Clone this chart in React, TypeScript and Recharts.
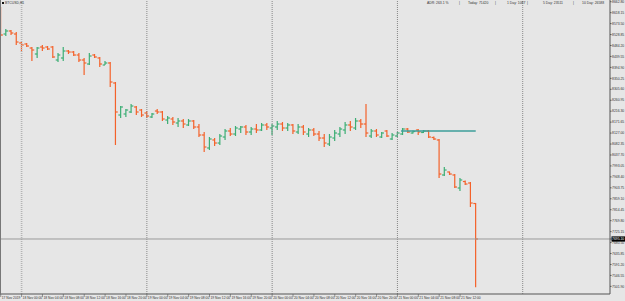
import { ComposedChart, Bar, XAxis, YAxis, ReferenceLine } from "recharts";

const OPEN = [
  8628.9, 8531.0, 8543.3, 8531.0, 8494.3, 8490.3, 8473.9, 8449.5, 8478.0, 8478.0,
  8478.0, 8425.0, 8433.2, 8461.7, 8457.6, 8445.4, 8425.0, 8408.7, 8445.4, 8433.2,
  8404.6, 8412.8, 8331.2, 8200.7, 8204.8, 8213.0, 8233.4, 8221.1, 8208.9, 8192.6,
  8217.0, 8213.0, 8180.3, 8184.4, 8168.1, 8176.3, 8160.0, 8176.3, 8151.8, 8119.2,
  8066.2, 8098.8, 8086.5, 8111.0, 8135.5, 8123.2, 8143.6, 8151.8, 8131.4, 8143.6,
  8139.6, 8160.0, 8147.7, 8151.8, 8164.0, 8147.7, 8160.0, 8131.4, 8151.8, 8123.2,
  8139.6, 8123.2, 8106.9, 8082.5, 8106.9, 8123.2, 8139.6, 8160.0, 8147.7, 8176.3,
  8164.0, 8115.1, 8135.5, 8111.0, 8135.5, 8102.9, 8115.1, 8123.2, 8143.6, 8127.3,
  8139.6, 8129.4, 8135.5, 8109.0, 8098.8, 7956.1, 7968.3, 7956.1, 7903.0, 7929.5,
  7923.4, 7839.8,
];
const HIGH = [
  8641.2, 8551.4, 8547.4, 8539.2, 8498.4, 8494.3, 8478.0, 8478.0, 8486.2, 8482.1,
  8482.1, 8453.6, 8478.0, 8465.8, 8461.7, 8453.6, 8433.2, 8453.6, 8449.5, 8437.3,
  8421.0, 8416.9, 8335.3, 8237.4, 8225.2, 8245.6, 8237.4, 8225.2, 8217.0, 8208.9,
  8225.2, 8217.0, 8196.7, 8192.6, 8188.5, 8184.4, 8184.4, 8180.3, 8164.0, 8131.4,
  8111.0, 8106.9, 8123.2, 8143.6, 8147.7, 8155.9, 8155.9, 8160.0, 8151.8, 8164.0,
  8168.1, 8168.1, 8164.0, 8176.3, 8172.2, 8168.1, 8164.0, 8164.0, 8160.0, 8147.7,
  8147.7, 8135.5, 8123.2, 8123.2, 8139.6, 8151.8, 8172.2, 8176.3, 8188.5, 8184.4,
  8245.6, 8143.6, 8143.6, 8131.4, 8139.6, 8127.3, 8131.4, 8147.7, 8147.7, 8137.5,
  8143.6, 8139.6, 8139.6, 8113.0, 8102.9, 7988.7, 7970.3, 7960.1, 7943.8, 7933.6,
  7927.5, 7841.8,
];
const LOW = [
  8522.9, 8522.9, 8527.0, 8486.2, 8457.6, 8478.0, 8421.0, 8433.2, 8461.7, 8465.8,
  8433.2, 8416.9, 8421.0, 8449.5, 8441.3, 8416.9, 8363.8, 8404.6, 8433.2, 8396.5,
  8404.6, 8314.9, 8078.4, 8188.5, 8192.6, 8208.9, 8200.7, 8192.6, 8188.5, 8188.5,
  8204.8, 8176.3, 8164.0, 8160.0, 8151.8, 8147.7, 8155.9, 8143.6, 8111.0, 8049.9,
  8058.0, 8074.3, 8078.4, 8098.8, 8115.1, 8115.1, 8127.3, 8119.2, 8119.2, 8127.3,
  8135.5, 8139.6, 8119.2, 8139.6, 8135.5, 8135.5, 8123.2, 8123.2, 8119.2, 8111.0,
  8115.1, 8094.7, 8070.2, 8074.3, 8094.7, 8111.0, 8123.2, 8135.5, 8139.6, 8147.7,
  8111.0, 8106.9, 8111.0, 8106.9, 8111.0, 8098.8, 8111.0, 8119.2, 8127.3, 8125.3,
  8119.2, 8127.3, 8106.9, 8098.8, 7943.8, 7952.0, 7956.1, 7903.0, 7890.8, 7915.3,
  7825.5, 7498.3,
];
const CLOSE = [
  8527.0, 8543.3, 8535.1, 8498.4, 8486.2, 8482.1, 8465.8, 8473.9, 8473.9, 8469.9,
  8437.3, 8445.4, 8461.7, 8457.6, 8445.4, 8425.0, 8412.8, 8441.3, 8437.3, 8408.7,
  8412.8, 8335.3, 8213.0, 8233.4, 8221.1, 8237.4, 8213.0, 8200.7, 8196.7, 8204.8,
  8213.0, 8184.4, 8188.5, 8172.2, 8176.3, 8164.0, 8176.3, 8151.8, 8119.2, 8070.2,
  8102.9, 8086.5, 8115.1, 8135.5, 8123.2, 8147.7, 8151.8, 8131.4, 8143.6, 8139.6,
  8160.0, 8151.8, 8155.9, 8164.0, 8147.7, 8160.0, 8135.5, 8151.8, 8131.4, 8139.6,
  8123.2, 8106.9, 8086.5, 8111.0, 8127.3, 8143.6, 8160.0, 8151.8, 8176.3, 8164.0,
  8127.3, 8135.5, 8119.2, 8127.3, 8115.1, 8119.2, 8127.3, 8143.6, 8131.4, 8133.4,
  8131.4, 8135.5, 8111.0, 8102.9, 7960.1, 7976.4, 7960.1, 7907.1, 7935.7, 7919.3,
  7841.8, 7695.1,
];

// one label every 4 hourly bars
const TIME_TICKS = [0, 4, 8, 12, 16, 20, 24, 28, 32, 36, 40, 44, 48, 52, 56, 60, 64, 68, 72, 76, 80, 84, 88];
const TIME_LABELS = [
  "17 Nov 2019", "18 Nov 00:00", "18 Nov 04:00", "18 Nov 08:00", "18 Nov 12:00", "18 Nov 16:00",
  "18 Nov 20:00", "19 Nov 00:00", "19 Nov 04:00", "19 Nov 08:00", "19 Nov 12:00", "19 Nov 16:00",
  "19 Nov 20:00", "20 Nov 00:00", "20 Nov 04:00", "20 Nov 08:00", "20 Nov 12:00", "20 Nov 16:00",
  "20 Nov 20:00", "21 Nov 00:00", "21 Nov 04:00", "21 Nov 08:00", "21 Nov 12:00",
];

const DAY_STARTS = [4, 28, 52, 76, 100];
const PRICE_TICKS = [
  8662.8, 8618.15, 8573.5, 8528.85, 8484.2, 8439.55, 8394.9, 8350.25, 8305.6, 8260.95,
  8216.3, 8171.65, 8127.0, 8082.35, 8037.7, 7993.05, 7948.4, 7903.75, 7859.1, 7814.45,
  7769.8, 7725.15, 7680.5, 7635.85, 7591.2, 7546.55, 7501.9,
];
const LEVEL_PRICE = 8135.5;
const LEVEL_FROM = 76.7;
const LEVEL_TO = 91;

const HEADER = [
  { x: 427, t: "ADR: 263.1 %" },
  { x: 459, t: "|" },
  { x: 468, t: "Today: 71420" },
  { x: 495, t: "|" },
  { x: 507, t: "1 Day: 1087" },
  { x: 527, t: "|" },
  { x: 543, t: "5 Day: 23511" },
  { x: 573, t: "|" },
  { x: 582, t: "10 Day: 26588" },
];

const BULL = "#3cae74";
const BEAR = "#f4622a";
const FONT = "Liberation Sans, Arial, sans-serif";

const data = OPEN.map((o, i) => ({
  i,
  open: o,
  high: HIGH[i],
  low: LOW[i],
  close: CLOSE[i],
  range: [LOW[i], HIGH[i]],
}));
const last = CLOSE[CLOSE.length - 1];

function OhlcBar(props: any) {
  const { x, y, width, height, payload } = props;
  if (x == null || y == null) return null;
  const top = Math.min(y, y + height);
  const h = Math.abs(height);
  const cx = x + width / 2;
  const span = payload.high - payload.low || 1;
  const py = (v: number) => top + ((payload.high - v) / span) * h;
  const color = payload.close >= payload.open ? BULL : BEAR;
  return (
    <g stroke={color} strokeWidth={1.2}>
      <line x1={cx} x2={cx} y1={top} y2={top + h} />
      <line x1={cx - 2.3} x2={cx} y1={py(payload.open)} y2={py(payload.open)} />
      <line x1={cx} x2={cx + 2.3} y1={py(payload.close)} y2={py(payload.close)} />
    </g>
  );
}

function TimeTick(props: any) {
  const { x, payload } = props;
  const idx = TIME_TICKS.indexOf(payload.value);
  return (
    <g>
      <line x1={x} x2={x} y1={294} y2={297} stroke="#555" strokeWidth={0.6} />
      <text x={x + 1} y={299.3} fontSize={3.3} fill="#333" fontFamily={FONT}>
        {TIME_LABELS[idx]}
      </text>
    </g>
  );
}

function PriceTick(props: any) {
  const { x, y, payload } = props;
  const v = payload.value as number;
  if (v === last) {
    return (
      <g>
        <rect x={x - 0.5} y={y - 2.6} width={15} height={5.2} fill="#000" />
        <text x={x} y={y + 1.2} fontSize={3.4} fill="#fff" fontFamily={FONT}>
          {v.toFixed(2)}
        </text>
      </g>
    );
  }
  return (
    <text x={x} y={y + 1.2} fontSize={3.4} fill="#333" fontFamily={FONT}>
      {v.toFixed(2)}
    </text>
  );
}

export default function App() {
  return (
    <div style={{ position: "relative", width: 625, height: 301, background: "#e6e6e6" }}>
      <style>{`body{margin:0}`}</style>
      <ComposedChart
        width={625}
        height={301}
        data={data}
        margin={{ top: 0, right: 0, bottom: 0, left: 0 }}
      >
        <XAxis
          type="number"
          dataKey="i"
          domain={[-0.134, 116.72]}
          allowDataOverflow
          ticks={TIME_TICKS}
          interval={0}
          height={7}
          axisLine={{ stroke: "#555" }}
          tickLine={false}
          tick={<TimeTick />}
        />
        <YAxis
          orientation="right"
          type="number"
          domain={[7470.8, 8669.7]}
          allowDataOverflow
          ticks={[...PRICE_TICKS, last]}
          interval={0}
          width={15}
          axisLine={{ stroke: "#555" }}
          tickLine={{ stroke: "#555" }}
          tickSize={1.5}
          tickMargin={0.5}
          tick={<PriceTick />}
        />
        {DAY_STARTS.map((d, k) => (
          <ReferenceLine
            key={d}
            x={d}
            stroke={k === 0 ? "#b4b4b4" : "#888"}
            strokeDasharray="1 1"
            strokeWidth={k === 0 ? 1.6 : 1}
          />
        ))}
        <ReferenceLine y={last} stroke="#9a9a9a" strokeWidth={1} />
        <ReferenceLine
          segment={[
            { x: LEVEL_FROM, y: LEVEL_PRICE },
            { x: LEVEL_TO, y: LEVEL_PRICE },
          ]}
          stroke="#3d9e9a"
          strokeWidth={1.6}
        />
        <Bar dataKey="range" barSize={5} shape={<OhlcBar />} isAnimationActive={false} />
      </ComposedChart>
      <svg
        width={625}
        height={301}
        style={{ position: "absolute", left: 0, top: 0, pointerEvents: "none" }}
      >
        <line x1={0.5} x2={0.5} y1={0} y2={294} stroke="#777" strokeWidth={1} />
        <rect x={2} y={2} width={2} height={2} fill="#111" />
        <text x={5} y={4.3} fontSize={3.4} fill="#333" fontFamily={FONT}>
          BTCUSD,H1
        </text>
        {HEADER.map((h) => (
          <text key={h.x} x={h.x} y={4.3} fontSize={3.4} fill="#333" fontFamily={FONT}>
            {h.t}
          </text>
        ))}
      </svg>
    </div>
  );
}
